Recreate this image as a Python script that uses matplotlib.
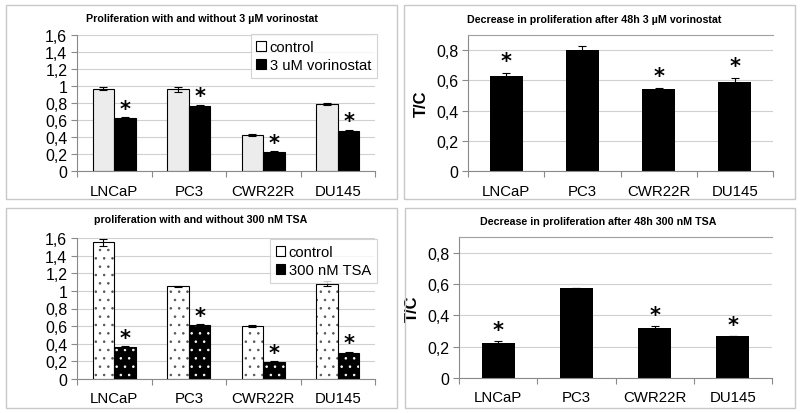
import matplotlib
matplotlib.use("Agg")
import matplotlib.pyplot as plt
from matplotlib.patches import Rectangle, Patch
from matplotlib.ticker import FuncFormatter, FixedLocator
import numpy as np

plt.rcParams['font.family'] = ['Liberation Sans', 'DejaVu Sans']
plt.rcParams['hatch.linewidth'] = 0.6

cells = ["LNCaP", "PC3", "CWR22R", "DU145"]

# Panel A: vorinostat
vor_control = [0.97, 0.96, 0.42, 0.79]
vor_control_err = [0.02, 0.03, 0.01, 0.01]
vor_treated = [0.62, 0.77, 0.22, 0.47]
vor_treated_err = [0.01, 0.01, 0.01, 0.015]
vor_sig = [True, True, True, True]

# Panel B: T/C vorinostat
vor_tc = [0.63, 0.80, 0.54, 0.59]
vor_tc_err = [0.02, 0.025, 0.01, 0.025]
vor_tc_sig = [True, False, True, True]

# Panel C: TSA
tsa_control = [1.55, 1.05, 0.60, 1.08]
tsa_control_err = [0.04, 0.01, 0.015, 0.03]
tsa_treated = [0.36, 0.61, 0.19, 0.29]
tsa_treated_err = [0.01, 0.01, 0.01, 0.02]
tsa_sig = [True, True, True, True]

# Panel D: T/C TSA
tsa_tc = [0.225, 0.575, 0.32, 0.265]
tsa_tc_err = [0.01, 0.0, 0.01, 0.0]
tsa_tc_sig = [True, False, True, True]

W, H = 800, 414
fig = plt.figure(figsize=(8, 4.14), dpi=100)

def fx(px):
    return px / W

def fy(py):
    return 1 - py / H

# panel borders
for (x0, y0, x1, y1) in [(6, 6, 397, 200), (404, 6, 795, 200), (6, 209, 397, 409), (405, 209, 795, 409)]:
    fig.patches.append(Rectangle((fx(x0), fy(y1)), fx(x1 - x0), (y1 - y0) / H,
                                 transform=fig.transFigure, fill=False,
                                 edgecolor='#c8c8c8', linewidth=1.0))

comma = FuncFormatter(lambda v, p: ('%g' % round(v, 2)).replace('.', ','))
GRID = '#d0d0d0'
AX = '#8a8a8a'

def make_axes(l, t, r, b, ymax, step, top_spine):
    ax = fig.add_axes([fx(l), fy(b), fx(r - l), (b - t) / H])
    ax.set_xlim(-0.5, 3.5)
    ax.set_ylim(0, ymax)
    ticks = np.arange(0, ymax + 1e-9, step)
    ax.yaxis.set_major_locator(FixedLocator(ticks))
    ax.yaxis.set_major_formatter(comma)
    ax.set_xticks(range(4))
    ax.set_xticklabels(cells)
    ax.xaxis.set_minor_locator(FixedLocator([-0.5, 0.5, 1.5, 2.5, 3.5]))
    ax.tick_params(axis='x', which='major', length=0, pad=9, labelsize=10.8)
    ax.tick_params(axis='x', which='minor', length=4, color=AX, width=0.8)
    ax.tick_params(axis='y', length=4, color=AX, width=0.8, labelsize=11.5, pad=3)
    ax.grid(axis='y', color=GRID, linewidth=0.8)
    ax.set_axisbelow(True)
    ax.spines['right'].set_visible(False)
    ax.spines['top'].set_visible(top_spine)
    ax.spines['top'].set_color('#a0a0a0')
    ax.spines['top'].set_linewidth(0.8)
    ax.spines['left'].set_color(AX)
    ax.spines['bottom'].set_color(AX)
    ax.spines['left'].set_linewidth(0.8)
    ax.spines['bottom'].set_linewidth(0.8)
    return ax

def stars(ax, xs, tops, sig, off):
    for x, t, s in zip(xs, tops, sig):
        if s:
            ax.text(x, t + off, '*', ha='center', va='bottom', fontsize=15,
                    fontweight='bold', family='DejaVu Sans')

def title(txt, cx, py):
    fig.text(fx(cx), fy(py), txt, ha='center', va='center', fontsize=7.7, fontweight='bold')

x = np.arange(4)
bw = 0.29
ekw = dict(ecolor='black', elinewidth=0.8, capsize=3, capthick=0.8, fmt='none')

def legend(ax, handles, labels, right, top):
    lg = ax.legend(handles, labels, loc='upper right', bbox_to_anchor=(fx(right), fy(top)),
                   bbox_transform=fig.transFigure, fontsize=10.6, frameon=True, fancybox=False,
                   handlelength=0.65, handleheight=0.65, handletextpad=0.25, borderpad=0.4,
                   labelspacing=0.3, borderaxespad=0)
    lg.get_frame().set_edgecolor('#c8c8c8')
    lg.get_frame().set_linewidth(0.8)
    return lg

# ---------- Panel A ----------
ax1 = make_axes(77, 36, 375, 172, 1.6, 0.2, False)
ax1.bar(x - bw / 2, vor_control, bw, color='#ececec', edgecolor='black', linewidth=0.8, zorder=2)
ax1.bar(x + bw / 2, vor_treated, bw, color='black', edgecolor='black', linewidth=0.8, zorder=2)
ax1.errorbar(x - bw / 2, vor_control, yerr=vor_control_err, zorder=3, **ekw)
ax1.errorbar(x + bw / 2, vor_treated, yerr=vor_treated_err, zorder=3, **ekw)
stars(ax1, x + bw / 2, np.array(vor_treated) + np.array(vor_treated_err), vor_sig, -0.02)
title('Proliferation with and without 3 µM vorinostat', 202, 19)
h1 = Patch(facecolor='white', edgecolor='black', linewidth=0.8)
h2 = Patch(facecolor='black', edgecolor='black', linewidth=0.8)
legend(ax1, [h1, h2], ['control', '3 uM vorinostat'], 377, 35)

# ---------- Panel B ----------
ax2 = make_axes(468, 36, 773, 172, 0.9, 0.2, True)
ax2.bar(x, vor_tc, 0.43, color='black', zorder=2)
ax2.errorbar(x, vor_tc, yerr=vor_tc_err, zorder=3, **ekw)
stars(ax2, x, np.array(vor_tc) + np.array(vor_tc_err), vor_tc_sig, 0.012)
ax2.set_ylabel('T/C', fontsize=12, fontweight='bold', labelpad=5)
title('Decrease in proliferation after 48h 3 µM vorinostat', 594, 20)

# ---------- Panel C ----------
ax3 = make_axes(77, 239, 375, 380, 1.6, 0.2, False)
ax3.bar(x - bw / 2, tsa_control, bw, color='white', edgecolor='#555555', hatch='..', linewidth=0, zorder=2)
ax3.bar(x - bw / 2, tsa_control, bw, color='none', edgecolor='black', linewidth=0.8, zorder=2)
ax3.bar(x + bw / 2, tsa_treated, bw, color='black', edgecolor='white', hatch='..', linewidth=0, zorder=2)
ax3.bar(x + bw / 2, tsa_treated, bw, color='none', edgecolor='black', linewidth=0.8, zorder=2)
ax3.errorbar(x - bw / 2, tsa_control, yerr=tsa_control_err, zorder=3, **ekw)
ax3.errorbar(x + bw / 2, tsa_treated, yerr=tsa_treated_err, zorder=3, **ekw)
stars(ax3, x + bw / 2, np.array(tsa_treated) + np.array(tsa_treated_err), tsa_sig, -0.02)
title('proliferation with and without 300 nM TSA', 201, 220)
h3 = Patch(facecolor='white', edgecolor='black', linewidth=0.8)
h4 = Patch(facecolor='black', edgecolor='black', linewidth=0.8)
legend(ax3, [h3, h4], ['control', '300 nM TSA'], 377, 240)

# ---------- Panel D ----------
ax4 = make_axes(459, 238, 772, 379, 0.9, 0.2, True)
ax4.bar(x, tsa_tc, 0.42, color='black', zorder=2)
ax4.errorbar(x, tsa_tc, yerr=tsa_tc_err, zorder=3, **ekw)
stars(ax4, x, np.array(tsa_tc) + np.array(tsa_tc_err), tsa_tc_sig, 0.008)
ax4.set_ylabel('T/C', fontsize=12, fontweight='bold', labelpad=5)
title('Decrease in proliferation after 48h 300 nM TSA', 598, 222)

fig.savefig('out.png', dpi=100)
